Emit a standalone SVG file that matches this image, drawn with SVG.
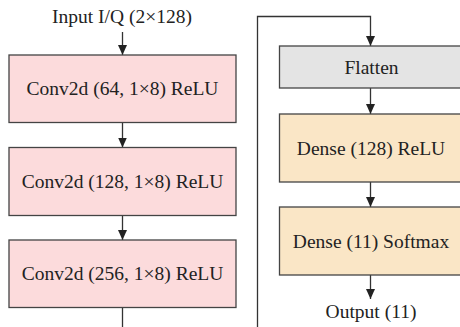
<svg xmlns="http://www.w3.org/2000/svg" width="460" height="327" viewBox="0 0 460 327">
<defs>
<marker id="ah" markerWidth="10" markerHeight="9" refX="10" refY="4.5" orient="auto" markerUnits="userSpaceOnUse">
<path d="M0,0 L10,4.5 L0,9 Z" fill="#222"/>
</marker>
<style>
.t{font-family:"Liberation Serif","Times New Roman",serif;font-size:19.5px;fill:#222;text-anchor:middle}
.box{stroke:#444;stroke-width:1.3}
.conv{fill:#fcdbdc}
.flat{fill:#e4e4e4}
.dense{fill:#fae6c6}
.c{fill:none;stroke:#333;stroke-width:1.3}
</style>
</defs>
<rect width="460" height="327" fill="#fff"/>
<g id="connectors">
<line class="c" x1="122.5" y1="32" x2="122.5" y2="55" marker-end="url(#ah)"/>
<line class="c" x1="122.5" y1="122.5" x2="122.5" y2="147.5" marker-end="url(#ah)"/>
<line class="c" x1="122.5" y1="215.5" x2="122.5" y2="240" marker-end="url(#ah)"/>
<line class="c" x1="122.5" y1="307.5" x2="122.5" y2="330"/>
<path class="c" d="M257.5,330 V16.5 H370.5 V46" marker-end="url(#ah)"/>
<line class="c" x1="370.5" y1="88" x2="370.5" y2="114" marker-end="url(#ah)"/>
<line class="c" x1="370.5" y1="182" x2="370.5" y2="207" marker-end="url(#ah)"/>
<line class="c" x1="370.5" y1="275" x2="370.5" y2="299" marker-end="url(#ah)"/>
</g>
<g id="input"><text class="t" x="122" y="23">Input I/Q (2×128)</text></g>
<g id="conv1"><rect class="box conv" x="9" y="55" width="227" height="67.5"/><text class="t" x="122.5" y="95">Conv2d (64, 1×8) ReLU</text></g>
<g id="conv2"><rect class="box conv" x="9" y="147.5" width="227" height="68"/><text class="t" x="122.5" y="188">Conv2d (128, 1×8) ReLU</text></g>
<g id="conv3"><rect class="box conv" x="9" y="240" width="227" height="67.5"/><text class="t" x="122.5" y="280">Conv2d (256, 1×8) ReLU</text></g>
<g id="flatten"><rect class="box flat" x="279.5" y="46" width="183" height="42"/><text class="t" x="371.5" y="74">Flatten</text></g>
<g id="dense1"><rect class="box dense" x="279.5" y="114" width="183" height="68"/><text class="t" x="371" y="155">Dense (128) ReLU</text></g>
<g id="dense2"><rect class="box dense" x="279.5" y="207" width="183" height="68"/><text class="t" x="371" y="248">Dense (11) Softmax</text></g>
<g id="output"><text class="t" x="371" y="318">Output (11)</text></g>
</svg>
